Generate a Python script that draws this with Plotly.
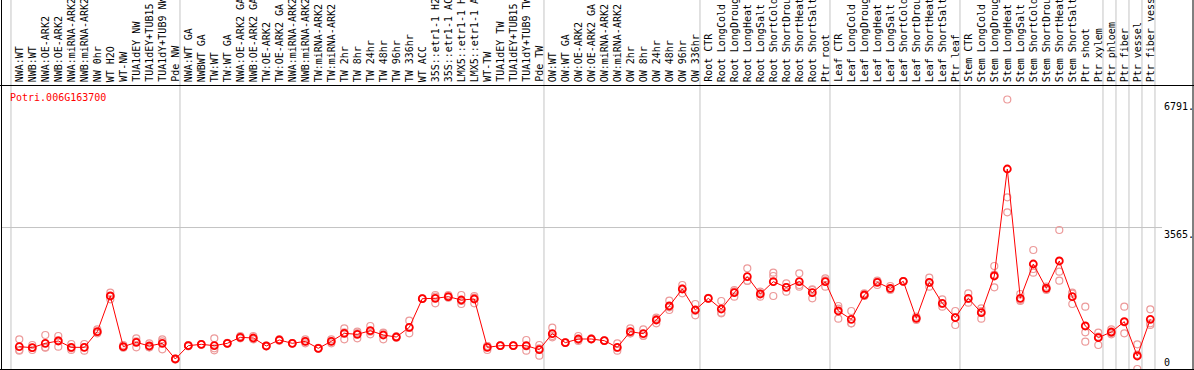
import plotly.graph_objects as go

gene_id = "Potri.006G163700"

categories = [
    "NWA:WT", "NWB:WT", "NWA:OE-ARK2", "NWB:OE-ARK2", "NWA:miRNA-ARK2", "NWB:miRNA-ARK2",
    "NW 0hr", "WT H2O", "WT-NW", "TUA1dEY NW", "TUA1dEY+TUB15 NW", "TUA1dY+TUB9 NW", "Pde NW",
    "NWA:WT GA", "NWBWT GA", "TW:WT", "TW:WT GA", "NWA:OE-ARK2 GA", "NWB:OE-ARK2 GA",
    "TW:OE-ARK2", "TW:OE-ARK2 GA", "NWA:miRNA-ARK2", "NWB:miRNA-ARK2", "TW:miRNA-ARK2",
    "TW:miRNA-ARK2", "TW 2hr", "TW 8hr", "TW 24hr", "TW 48hr", "TW 96hr", "TW 336hr",
    "WT ACC", "35S::etr1-1 H2O", "35S::etr1-1 ACC", "LMX5::etr1-1 H2O", "LMX5::etr1-1 ACC",
    "WT-TW", "TUA1dEY TW", "TUA1dEY+TUB15 TW", "TUA1dY+TUB9 TW", "Pde TW",
    "OW:WT", "OW:WT GA", "OW:OE-ARK2", "OW:OE-ARK2 GA", "OW:miRNA-ARK2", "OW:miRNA-ARK2",
    "OW 2hr", "OW 8hr", "OW 24hr", "OW 48hr", "OW 96hr", "OW 336hr",
    "Root CTR", "Root LongCold", "Root LongDrought", "Root LongHeat", "Root LongSalt",
    "Root ShortCold", "Root ShortDrought", "Root ShortHeat", "Root ShortSalt", "Ptr root",
    "Leaf CTR", "Leaf LongCold", "Leaf LongDrought", "Leaf LongHeat", "Leaf LongSalt",
    "Leaf ShortCold", "Leaf ShortDrought", "Leaf ShortHeat", "Leaf ShortSalt", "Ptr leaf",
    "Stem CTR", "Stem LongCold", "Stem LongDrought", "Stem LongHeat", "Stem LongSalt",
    "Stem ShortCold", "Stem ShortDrought", "Stem ShortHeat", "Stem ShortSalt",
    "Ptr shoot", "Ptr xylem", "Ptr phloem", "Ptr fiber", "Ptr vessel", "Ptr fiber vessel",
]

mean_vals = [
    563, 538, 647, 706, 546, 546, 941, 1840, 563, 672, 580, 647, 252,
    588, 622, 588, 647, 798, 781, 580, 731, 647, 697, 521, 697, 899, 874, 966, 857, 806, 1050,
    1772, 1781, 1823, 1739, 1764, 546, 588, 588, 588, 487,
    890, 664, 756, 756, 714, 546, 941, 890, 1235, 1588, 2016, 1487,
    1781, 1512, 1924, 2327, 1890, 2201, 2058, 2201, 1924, 2201,
    1462, 1252, 1865, 2184, 2033, 2209, 1277, 2184, 1655, 1294,
    1781, 1420, 2344, 5040, 1781, 2646, 2033, 2722, 1823, 1084, 790,
    932, 1193, 328, 1252,
]

rep1 = [
    748, 605, 857, 832, 630, 630, 1000, 1924, 605, 773, 647, 748, 265,
    605, 630, 773, 660, 832, 832, 588, 748, 655, 748, 530, 748, 1025, 941, 1084, 916, 823, 1218,
    1781, 1655, 1865, 1865, 1840, 479, 597, 596, 731, 605,
    1042, 672, 832, 764, 722, 647, 1025, 1000, 1294, 1722, 2117, 1638,
    1790, 1714, 1823, 2537, 1949, 2428, 2159, 2411, 2008, 2285,
    1588, 1462, 1907, 2117, 2092, 2218, 1235, 2302, 1756, 1462,
    1907, 1462, 2596, 6791, 1890, 2999, 1991, 3503, 1924, 1571, 916,
    1000, 1571, 622, 1504,
]

rep2 = [
    479, 479, 546, 563, 479, 462, 899, 1756, 546, 546, 546, 496, 240,
    571, 613, 521, 640, 773, 748, 571, 714, 640, 647, 513, 647, 748, 773, 874, 748, 790, 899,
    1764, 1823, 1806, 1638, 1655, 580, 580, 580, 462, 336,
    798, 655, 731, 748, 706, 462, 899, 832, 1151, 1487, 1907, 1352,
    1772, 1403, 1991, 2226, 1823, 2344, 1949, 2075, 1781, 2075,
    1268, 1151, 1840, 2226, 1991, 2201, 1319, 2075, 1571, 1109,
    1672, 1268, 2058, 4326, 1739, 2428, 2075, 2453, 1638, 924, 605,
    874, 899, 0, 1151,
]

rep3 = [
    462, 530, 538, 723, 521, 546, 924, 1840, 538, 697, 546, 697, 252,
    588, 622, 470, 640, 790, 764, 580, 731, 647, 697, 521, 697, 924, 907, 941, 907, 806, 1033,
    1772, 1865, 1798, 1714, 1798, 580, 588, 588, 571, 520,
    832, 664, 706, 756, 714, 530, 899, 840, 1260, 1554, 2025, 1470,
    1781, 1420, 1958, 2218, 1898, 1840, 2067, 2117, 1991, 2235,
    1520, 1151, 1848, 2209, 2016, 2209, 1277, 2176, 1638, 1302,
    1764, 1530, 2378, 3948, 1714, 2520, 2033, 2226, 1898, 689, 815,
    907, 1176, 360, 1109,
]

group_starts = [0, 13, 41, 53, 63, 73, 84, 85, 86, 87, 88]
y_label_vals = [6791, 3565, 0]
y_label_text = ["6791.", "3565.", "0"]

W, H = 1194, 370
MONO = "DejaVu Sans Mono"
x_idx = list(range(len(categories)))

# pixel mapping helpers (layout only)
px0, dpx = 19.3, 13.0          # x pixel of first category, spacing
y_zero_px, per_px = 369.0, 25.2  # value scale

fig = go.Figure()
for reps in (rep1, rep2, rep3):
    fig.add_trace(go.Scatter(
        x=x_idx, y=reps, mode="markers", hoverinfo="skip",
        marker=dict(symbol="circle-open", size=7, color="#ec9a9a", line=dict(width=1.2)),
        showlegend=False,
    ))
fig.add_trace(go.Scatter(
    x=x_idx, y=mean_vals, mode="lines+markers", text=categories,
    line=dict(color="#ff0000", width=1),
    marker=dict(symbol="circle-open", size=7, color="#ff0000", line=dict(width=1.8)),
    showlegend=False,
))

shapes = []
# vertical group gridlines
for s in group_starts:
    shapes.append(dict(type="line", xref="x", yref="paper", x0=s - 0.64, x1=s - 0.64,
                       y0=0, y1=1, line=dict(color="#c4c4c4", width=1), layer="below"))
# horizontal mid gridline
shapes.append(dict(type="line", xref="paper", yref="y", x0=1 / W, x1=1162 / W,
                   y0=y_label_vals[1], y1=y_label_vals[1],
                   line=dict(color="#c4c4c4", width=1), layer="below"))
# black frame lines
blk = dict(color="black", width=1)
shapes.append(dict(type="line", xref="paper", yref="paper", x0=1.5 / W, x1=1.5 / W, y0=0, y1=1, line=blk))
shapes.append(dict(type="line", xref="paper", yref="paper", x0=1193 / W, x1=1193 / W, y0=0, y1=1, line=blk))
shapes.append(dict(type="line", xref="paper", yref="paper", x0=0, x1=1,
                   y0=1 - 85.5 / H, y1=1 - 85.5 / H, line=blk))
shapes.append(dict(type="line", xref="paper", yref="paper", x0=0, x1=1,
                   y0=1 - 369.5 / H, y1=1 - 369.5 / H, line=blk))

annotations = []
for i, c in enumerate(categories):
    annotations.append(dict(
        x=i, xref="x", y=1 - 83 / H, yref="paper", text=c, textangle=-90,
        xanchor="center", yanchor="bottom", showarrow=False, borderpad=0,
        font=dict(family=MONO, size=10, color="black"),
    ))
annotations.append(dict(
    x=9 / W, xref="paper", y=1 - 97 / H, yref="paper", text=gene_id,
    xanchor="left", yanchor="middle", showarrow=False, borderpad=0,
    font=dict(family=MONO, size=10, color="#ff0000"),
))
for v, t in zip(y_label_vals, y_label_text):
    if v == 0:
        annotations.append(dict(x=1163 / W, xref="paper", y=1 - 362 / H, yref="paper", text=t,
                                xanchor="left", yanchor="middle", showarrow=False, borderpad=0,
                                font=dict(family=MONO, size=10, color="black")))
    else:
        annotations.append(dict(x=1163 / W, xref="paper", y=v, yref="y", text=t,
                                xanchor="left", yanchor="top", showarrow=False, borderpad=0,
                                font=dict(family=MONO, size=10, color="black")))

x_lo = -px0 / dpx
x_hi = (W - px0) / dpx
y_hi = y_zero_px * per_px
y_lo = -(H - y_zero_px) * per_px

fig.update_layout(
    width=W, height=H, margin=dict(l=0, r=0, t=0, b=0),
    paper_bgcolor="white", plot_bgcolor="white",
    xaxis=dict(range=[x_lo, x_hi], visible=False, showgrid=False, zeroline=False, fixedrange=True),
    yaxis=dict(range=[y_lo, y_hi], visible=False, showgrid=False, zeroline=False, fixedrange=True),
    shapes=shapes, annotations=annotations,
)

fig.write_html("out.html", config={"displayModeBar": False},
               post_script="document.body.style.margin='0';")
